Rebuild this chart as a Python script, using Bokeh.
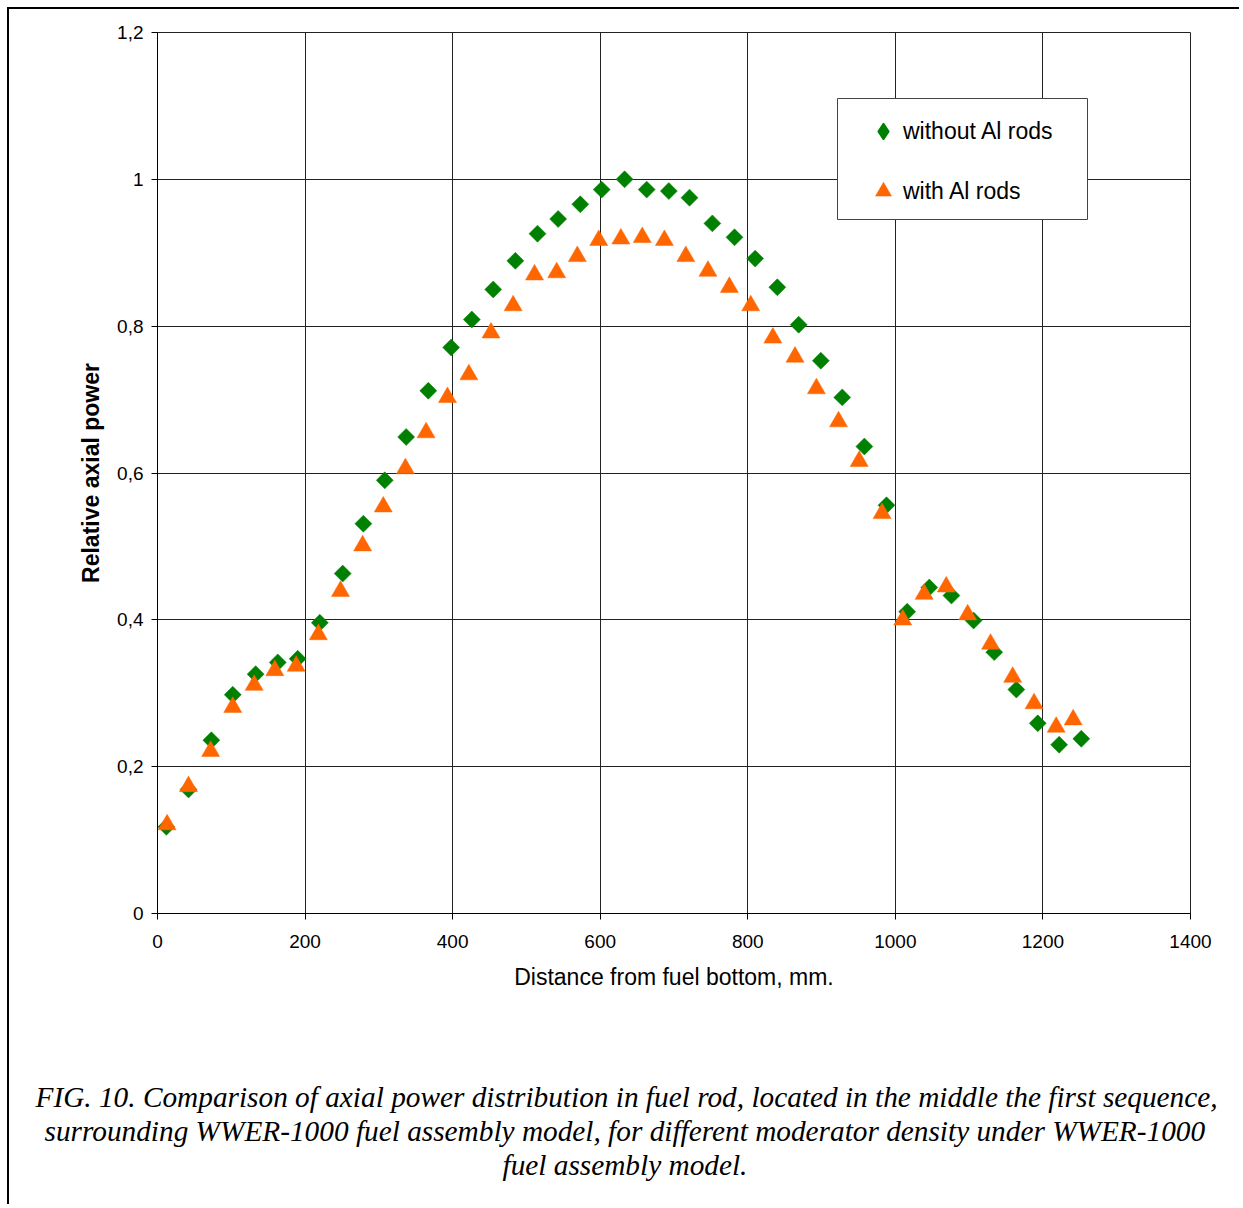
from bokeh.plotting import figure
from bokeh.models import (FixedTicker, CustomJSTickFormatter, Legend, LegendItem,
                          Title, BoxAnnotation)
from bokeh.embed import file_html
from bokeh.resources import INLINE
import math

# ---- data ----
x_without = [12, 42, 73, 102, 133, 163, 190, 220, 251, 279, 308, 337, 367, 398, 426,
             455, 485, 515, 543, 573, 602, 633, 663, 693, 721, 752, 782, 810, 840, 869,
             899, 928, 958, 988, 1016, 1046, 1076, 1106, 1134, 1164, 1193, 1222, 1252]
y_without = [0.118, 0.169, 0.236, 0.298, 0.326, 0.342, 0.347, 0.396, 0.463, 0.531, 0.590,
             0.649, 0.712, 0.771, 0.809, 0.850, 0.889, 0.926, 0.946, 0.966, 0.986, 1.000,
             0.986, 0.984, 0.975, 0.940, 0.921, 0.892, 0.853, 0.802, 0.753, 0.703, 0.636,
             0.556, 0.411, 0.444, 0.433, 0.399, 0.356, 0.305, 0.259, 0.230, 0.238]

x_with = [13, 42, 72, 102, 131, 159, 188, 218, 248, 278, 306, 336, 364, 393, 422, 452,
          482, 511, 541, 569, 598, 628, 657, 687, 716, 746, 775, 804, 834, 864, 893, 923,
          951, 982, 1010, 1039, 1069, 1098, 1129, 1159, 1188, 1218, 1241]
y_with = [0.121, 0.173, 0.221, 0.281, 0.311, 0.331, 0.337, 0.380, 0.439, 0.501, 0.554,
          0.606, 0.655, 0.703, 0.734, 0.791, 0.828, 0.870, 0.873, 0.895, 0.917, 0.919,
          0.921, 0.917, 0.895, 0.875, 0.853, 0.828, 0.784, 0.758, 0.715, 0.670, 0.616,
          0.545, 0.400, 0.435, 0.445, 0.407, 0.367, 0.322, 0.286, 0.254, 0.264]

series_names = ["without Al rods", "with Al rods"]
x_ticks = [0, 200, 400, 600, 800, 1000, 1200, 1400]
y_ticks = [0, 0.2, 0.4, 0.6, 0.8, 1.0, 1.2]
x_title = "Distance from fuel bottom, mm."
y_title = "Relative axial power"
caption_lines = [
    "FIG. 10. Comparison of axial power distribution in fuel rod, located in the middle the first sequence,",
    "surrounding WWER-1000 fuel assembly model, for different moderator density under WWER-1000",
    "fuel assembly model.",
]
caption_offsets = [-122, -113, 345]   # left offsets (px from plot-area left) centring each line

GREEN = "#008000"
ORANGE = "#FF6600"
SANS = "Liberation Sans"
SERIF = "Liberation Serif"

p = figure(width=1232, height=1197, output_backend="svg", toolbar_location=None,
           x_range=(0, 1400), y_range=(0, 1.2),
           min_border_left=148, min_border_right=51, min_border_top=23, min_border_bottom=293,
           styles={"margin-left": "7px", "margin-top": "7px",
                   "border-left": "2px solid black", "border-top": "2px solid black"})
p.background_fill_color = "white"
p.border_fill_color = "white"
p.outline_line_color = "#222222"
p.outline_line_width = 1

for g in (p.xgrid, p.ygrid):
    g.grid_line_color = "#222222"
    g.grid_line_width = 1
p.xgrid.ticker = FixedTicker(ticks=x_ticks)
p.ygrid.ticker = FixedTicker(ticks=y_ticks)

p.xaxis.ticker = FixedTicker(ticks=x_ticks)
p.yaxis.ticker = FixedTicker(ticks=y_ticks)
p.yaxis.formatter = CustomJSTickFormatter(
    code="const s = (Math.round(tick*10)/10).toString(); return s.replace('.', ',');")
for ax in (p.xaxis, p.yaxis):
    ax.axis_line_color = "black"
    ax.axis_line_width = 1
    ax.major_tick_line_color = "black"
    ax.major_tick_out = 6
    ax.major_tick_in = 0
    ax.minor_tick_line_color = None
    ax.major_label_text_font = SANS
    ax.major_label_text_font_size = "19px"
    ax.major_label_text_color = "black"
    ax.axis_label_text_font = SANS
    ax.axis_label_text_font_size = "23px"
    ax.axis_label_text_color = "black"
p.xaxis.major_label_standoff = 15
p.yaxis.major_label_standoff = 8
p.xaxis.axis_label = x_title
p.xaxis.axis_label_standoff = 13
p.xaxis.axis_label_text_font_style = "normal"
p.yaxis.axis_label = y_title
p.yaxis.axis_label_standoff = 10
p.yaxis.axis_label_text_font_style = "bold"

r1 = p.scatter(x_without, y_without, marker="square", size=12, angle=math.pi / 4,
               fill_color=GREEN, line_color=GREEN, line_width=0.5)
r2 = p.scatter(x_with, y_with, marker="triangle", size=18,
               fill_color=ORANGE, line_color=ORANGE, line_width=0.5)
# hidden style proxy for the legend key (legend glyphs are drawn unrotated)
r1_key = p.scatter(x_without, y_without, marker="diamond", fill_color=GREEN,
                   line_color=GREEN, line_width=1.5, visible=False)

# legend box
p.add_layout(BoxAnnotation(left=680, right=930, top=815, bottom=694,
                           left_units="screen", right_units="screen",
                           top_units="screen", bottom_units="screen",
                           fill_color="white", fill_alpha=1.0,
                           line_color="#444444", line_width=1, line_alpha=1.0))

legend = Legend(items=[LegendItem(label=series_names[0], renderers=[r1_key]),
                       LegendItem(label=series_names[1], renderers=[r2])],
                location=(706, 702), orientation="vertical",
                padding=0, spacing=20, margin=0,
                glyph_width=40, glyph_height=40, label_height=40,
                label_standoff=0, click_policy="none",
                inactive_fill_alpha=0.0,
                label_text_font=SANS, label_text_font_size="23px", label_text_color="black",
                border_line_color=None, background_fill_alpha=0.0)
p.add_layout(legend, "center")

# spacer between the axis title and the caption
p.add_layout(Title(text=" ", standoff=54, text_font_size="27px"), "below")
# caption lines below the plot
for line, off in zip(caption_lines, caption_offsets):
    p.add_layout(Title(text=line, align="left", offset=off, standoff=0,
                       text_font=SERIF, text_font_style="italic", text_font_size="29.3px",
                       text_color="black"), "below")

open("out.html", "w").write(file_html(p, INLINE))
